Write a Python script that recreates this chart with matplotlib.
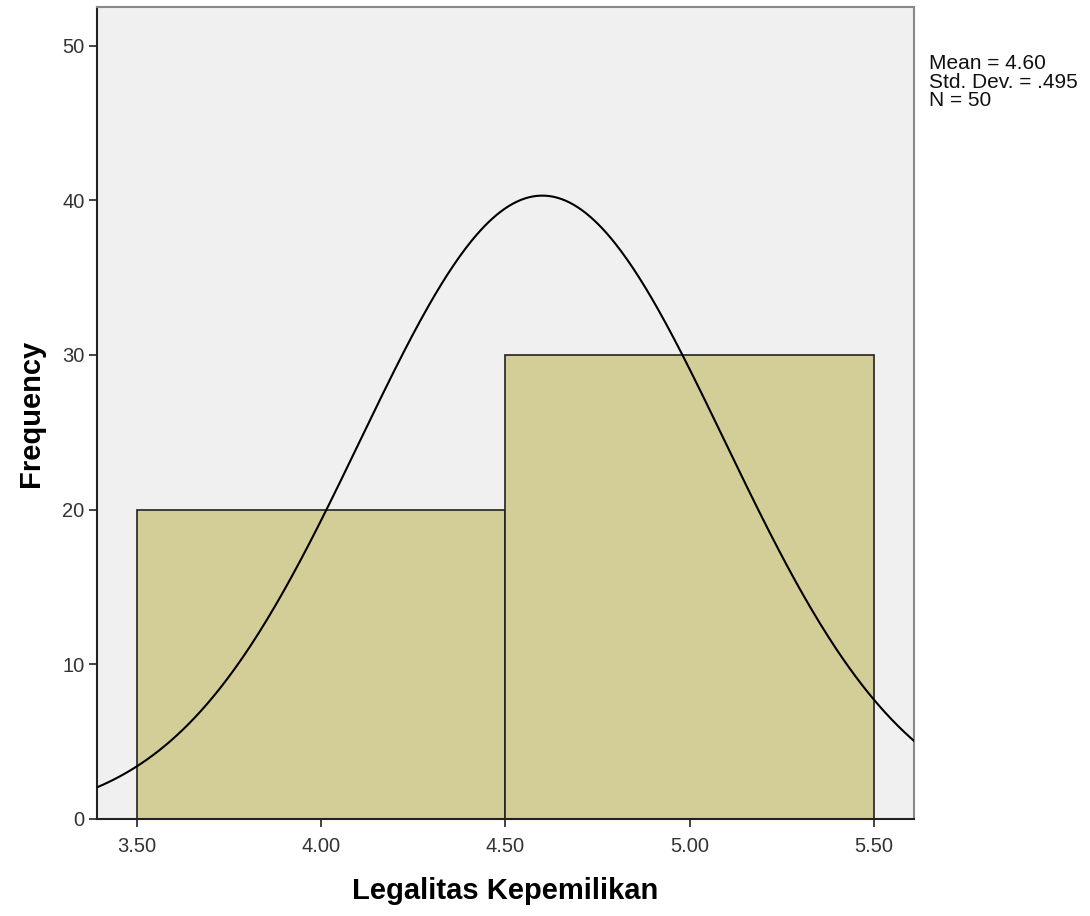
import numpy as np
import matplotlib.pyplot as plt

plt.rcParams['font.family'] = ['Liberation Sans', 'DejaVu Sans']

# histogram bins (left edges) and counts
bin_edges = [3.5, 4.5, 5.5]
counts = [20, 30]

mean_val = 4.60
std_val = 0.495
n_obs = 50

x_ticks = [3.5, 4.0, 4.5, 5.0, 5.5]
x_ticklabels = ["3.50", "4.00", "4.50", "5.00", "5.50"]
y_ticks = [0, 10, 20, 30, 40, 50]

fig = plt.figure(figsize=(10.9, 9.16), dpi=100)
ax = fig.add_axes([0.089, 0.106, 0.7495, 0.8865])
ax.set_facecolor("#f0f0f0")

widths = np.diff(bin_edges)
ax.bar(bin_edges[:-1], counts, width=widths, align="edge",
       color="#d3ce97", edgecolor="#222222", linewidth=1.2, zorder=2)

# normal curve scaled to the histogram
xlo, xhi = 3.391, 5.609
xs = np.linspace(xlo, xhi, 400)
bw = widths[0]
ys = n_obs * bw / (std_val * np.sqrt(2 * np.pi)) * np.exp(-0.5 * ((xs - mean_val) / std_val) ** 2)
ax.plot(xs, ys, color="black", lw=1.5, zorder=3)

ax.set_xlim(xlo, xhi)
ax.set_ylim(0, 52.5)
ax.set_xticks(x_ticks)
ax.set_xticklabels(x_ticklabels)
ax.set_yticks(y_ticks)
ax.tick_params(direction="out", length=6, width=1.2, labelsize=14.5, color="#222222",
               labelcolor="#333333")
ax.tick_params(axis="x", pad=7)
ax.tick_params(axis="y", pad=3)

for side in ["left", "bottom"]:
    ax.spines[side].set_color("#222222")
    ax.spines[side].set_linewidth(1.5)
for side in ["top", "right"]:
    ax.spines[side].set_color("#888888")
    ax.spines[side].set_linewidth(1.5)

ax.set_xlabel("Legalitas Kepemilikan", fontsize=21, fontweight="bold", labelpad=15)
ax.set_ylabel("Frequency", fontsize=21, fontweight="bold", labelpad=12)

fig.text(0.852, 0.941, f"Mean = {mean_val:.2f}\nStd. Dev. = .{int(round(std_val * 1000))}\nN = {n_obs}",
         fontsize=15, va="top", ha="left", linespacing=0.97, color="#111111")

fig.savefig("out.png", dpi=100)
